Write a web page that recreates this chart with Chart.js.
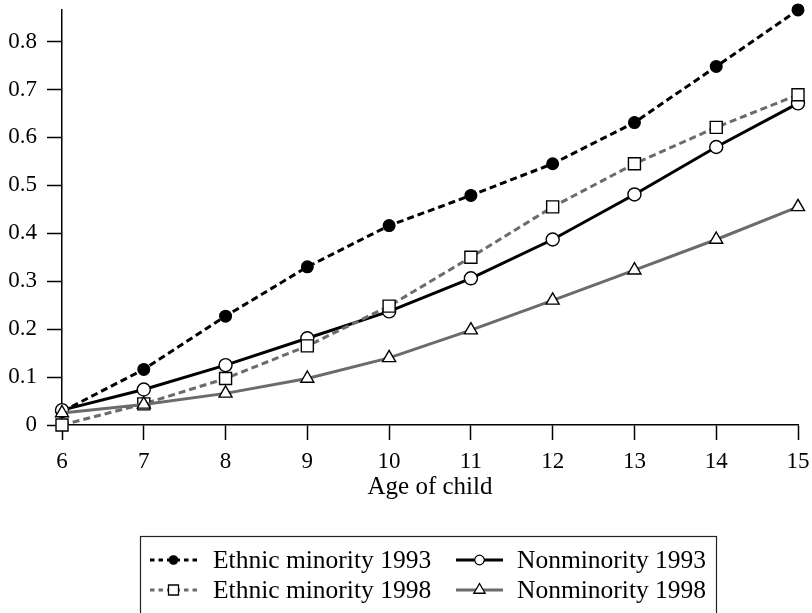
<!DOCTYPE html>
<html>
<head>
<meta charset="utf-8">
<script src="https://cdn.jsdelivr.net/npm/chart.js@4.4.1/dist/chart.umd.min.js"></script>
<style>
  html, body { margin: 0; padding: 0; background: #fff; }
  #wrap { width: 812px; height: 613px; }
</style>
</head>
<body>
<div id="wrap"><canvas id="c" width="812" height="613"></canvas></div>
<script>
// Share of children, by age
const ages = [6, 7, 8, 9, 10, 11, 12, 13, 14, 15];
const ethnicMinority1993 = [0.028, 0.116, 0.227, 0.330, 0.416, 0.479, 0.545, 0.631, 0.748, 0.866];
const nonminority1993    = [0.031, 0.074, 0.125, 0.181, 0.237, 0.306, 0.387, 0.481, 0.580, 0.671];
const ethnicMinority1998 = [0.000, 0.044, 0.097, 0.165, 0.248, 0.350, 0.455, 0.545, 0.621, 0.689];
const nonminority1998    = [0.025, 0.043, 0.066, 0.097, 0.140, 0.198, 0.260, 0.323, 0.387, 0.455];
const seriesNames = ['Ethnic minority 1993', 'Nonminority 1993', 'Ethnic minority 1998', 'Nonminority 1998'];
const xTitle = 'Age of child';

const BLACK = '#000000';
const GREY = '#6b6b6b';
const FONT = "'Liberation Serif', 'Times New Roman', serif";

Chart.defaults.font.family = FONT;
Chart.defaults.color = BLACK;

const pts = arr => ages.map((a, i) => ({ x: a, y: arr[i] }));

// legend sample description for each series (drawn by the plugin below)
const legendItems = [
  { name: seriesNames[0], color: BLACK, dash: [4.5, 4], marker: 'circle', fill: BLACK, r: 4.2, col: 0, row: 0 },
  { name: seriesNames[1], color: BLACK, dash: [], marker: 'circle', fill: '#fff', r: 4.8, col: 1, row: 0 },
  { name: seriesNames[2], color: GREY, dash: [4.5, 4], marker: 'rect', fill: '#fff', r: 5, col: 0, row: 1 },
  { name: seriesNames[3], color: GREY, dash: [], marker: 'triangle', fill: '#fff', r: 6.5, col: 1, row: 1 }
];

function drawMarker(ctx, kind, x, y, r, fill) {
  ctx.save();
  ctx.setLineDash([]);
  ctx.lineWidth = 1.3;
  ctx.strokeStyle = BLACK;
  ctx.fillStyle = fill;
  ctx.beginPath();
  if (kind === 'circle') {
    ctx.arc(x, y, r, 0, Math.PI * 2);
  } else if (kind === 'rect') {
    ctx.rect(x - r, y - r, 2 * r, 2 * r);
  } else {
    ctx.moveTo(x, y - r);
    ctx.lineTo(x + r * 0.866, y + r * 0.5);
    ctx.lineTo(x - r * 0.866, y + r * 0.5);
    ctx.closePath();
  }
  ctx.fill();
  ctx.stroke();
  ctx.restore();
}

const boxedLegend = {
  id: 'boxedLegend',
  afterDraw(chart) {
    const ctx = chart.ctx;
    const box = { left: 140.5, top: 536.5, right: 716.5 };
    const colLine = [150, 456];
    const colText = [213, 517];
    const rowY = [560, 590];
    const lineLen = 47;
    ctx.save();
    ctx.strokeStyle = '#222';
    ctx.lineWidth = 1.2;
    ctx.strokeRect(box.left, box.top, box.right - box.left, 120);
    legendItems.forEach(it => {
      const x0 = colLine[it.col];
      const y = rowY[it.row];
      ctx.save();
      ctx.strokeStyle = it.color;
      ctx.lineWidth = 3;
      ctx.setLineDash(it.dash);
      ctx.beginPath();
      ctx.moveTo(x0, y);
      ctx.lineTo(x0 + lineLen, y);
      ctx.stroke();
      ctx.restore();
      drawMarker(ctx, it.marker, x0 + lineLen / 2, y, it.r, it.fill);
      ctx.fillStyle = BLACK;
      ctx.font = '25.5px ' + FONT;
      ctx.textBaseline = 'middle';
      ctx.textAlign = 'left';
      ctx.fillText(it.name, colText[it.col], y + 1);
    });
    ctx.restore();
  }
};

const common = { tension: 0, borderWidth: 3, clip: false, pointBorderColor: BLACK, pointBorderWidth: 1.4 };

new Chart(document.getElementById('c'), {
  type: 'line',
  data: {
    datasets: [
      Object.assign({}, common, {
        label: seriesNames[3], data: pts(nonminority1998),
        borderColor: GREY, pointStyle: 'triangle', pointRadius: 7.5, pointBackgroundColor: '#fff'
      }),
      Object.assign({}, common, {
        label: seriesNames[2], data: pts(ethnicMinority1998),
        borderColor: GREY, borderDash: [7, 4], pointStyle: 'rect', pointRadius: 8.5, pointBackgroundColor: '#fff'
      }),
      Object.assign({}, common, {
        label: seriesNames[1], data: pts(nonminority1993),
        borderColor: BLACK, pointStyle: 'circle', pointRadius: 6.5, pointBackgroundColor: '#fff'
      }),
      Object.assign({}, common, {
        label: seriesNames[0], data: pts(ethnicMinority1993),
        borderColor: BLACK, borderDash: [7, 4], pointStyle: 'circle', pointRadius: 5.8, pointBackgroundColor: BLACK
      })
    ]
  },
  options: {
    responsive: false,
    animation: false,
    devicePixelRatio: 1,
    layout: { padding: { left: 0, right: 14, top: 9, bottom: 111 } },
    plugins: { legend: { display: false }, tooltip: { enabled: false } },
    scales: {
      x: {
        type: 'linear',
        min: ages[0],
        max: ages[ages.length - 1],
        ticks: { stepSize: 1, padding: 8, color: BLACK, font: { size: 23 } },
        grid: { drawOnChartArea: false, drawTicks: true, tickLength: 15, tickColor: BLACK, tickWidth: 1.5, z: -2 },
        border: { color: BLACK, width: 1.5 },
        title: { display: true, text: xTitle, color: BLACK, font: { size: 25 }, padding: { top: 0, bottom: 0 } },
        afterFit(s) { s.height = 77; s.paddingLeft = 0; s.paddingRight = 0; }
      },
      y: {
        min: 0,
        max: Math.max(...ethnicMinority1993),
        ticks: {
          stepSize: 0.1, includeBounds: false, padding: 10, color: BLACK, font: { size: 23 },
          callback: v => (Math.abs(v) < 1e-9 ? '0' : v.toFixed(1))
        },
        grid: { drawOnChartArea: false, drawTicks: true, tickLength: 15, tickColor: BLACK, tickWidth: 1.5, z: -2 },
        border: { color: BLACK, width: 1.5 },
        afterFit(s) { s.width = 62; s.paddingTop = 0; s.paddingBottom = 0; }
      }
    }
  },
  plugins: [boxedLegend]
});
</script>
</body>
</html>
